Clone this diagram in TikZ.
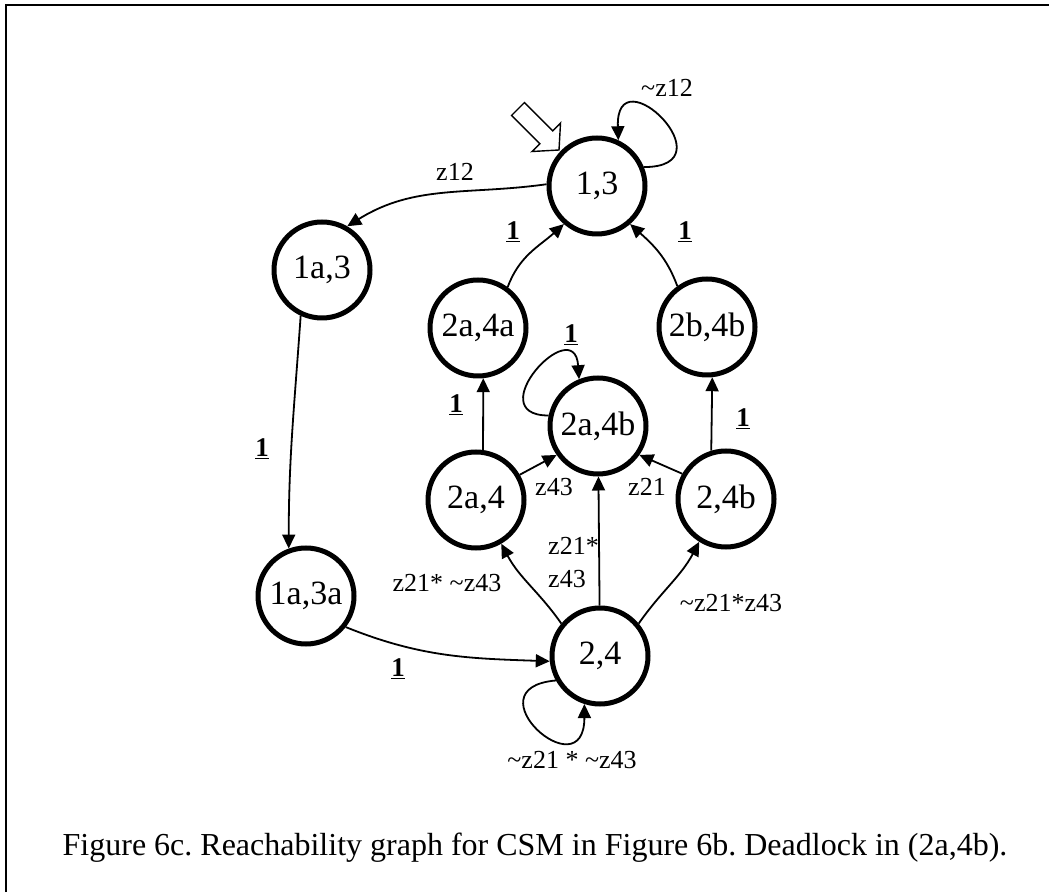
\documentclass[tikz,border=0pt]{standalone}
\usepackage{fontspec}
\setmainfont{Liberation Serif}
\usetikzlibrary{arrows.meta}
\newcommand{\uone}{\underline{\textbf{1}}}
\frenchspacing
\begin{document}
\begin{tikzpicture}
    [x=1pt,y=1pt,
     place/.style={circle,draw,line width=5pt,minimum size=96pt,inner sep=0pt,
                   font=\fontsize{34}{40}\selectfont},
     trans/.style={line width=1.8pt,-{Triangle[length=14pt,width=13pt]}},
     lbl/.style={inner sep=0pt,font=\fontsize{26}{33}\selectfont},
     one/.style={inner sep=0pt,font=\fontsize{27}{33}\selectfont\bfseries}]
    \useasboundingbox (0,0) rectangle (1049,892);
    \draw[line width=2pt] (6,0) -- (6,887) -- (1049,887);
    % states
    \node[place] (n13) at (597,706) {1,3};
    \node[place] (n1a3) at (322,622) {1a,3};
    \node[place] (n1a3a) at (306,296) {1a,3a};
    \node[place] (n2a4a) at (478,564) {2a,4a};
    \node[place] (n2b4b) at (707,565) {2b,4b};
    \node[place] (n2a4b) at (598,466) {2a,4b};
    \node[place] (n2a4) at (476,392) {2a,4};
    \node[place] (n24b) at (726,393) {2,4b};
    \node[place] (n24) at (600,236) {2,4};
    % initial state
    \draw[line width=1.4pt] (524.4,789.4) -- (552.7,761.1) -- (560.5,769) -- (559,742)
        -- (532,740.5) -- (539.9,748.3) -- (511.6,776.6) -- cycle;
    % transitions
    \draw[trans] (n13.178) to[out=188,in=32] (n1a3.60);
    \draw[trans] (n1a3.245) to[out=266,in=90] (n1a3a.110);
    \draw[trans] (n1a3a.-38) to[out=-22,in=178] (n24.186);
    \draw[trans] (n24.140) to[out=125,in=-62] (n2a4.-60);
    \draw[trans] (n24) -- (n2a4b);
    \draw[trans] (n24.40) to[out=55,in=242] (n24b.238);
    \draw[trans] (n2a4.30) -- (n2a4b.215);
    \draw[trans] (n24b.150) -- (n2a4b.-35);
    \draw[trans] (n2a4.82) -- (n2a4a.-84);
    \draw[trans] (n24b.107) -- (n2b4b.-84);
    \draw[trans] (n2a4a.54) to[out=70,in=222] (n13.229);
    \draw[trans] (n2b4b.126) to[out=110,in=-42] (n13.-49);
    \draw[trans] (n13.22) .. controls +(0:88) and +(92:88) .. (n13.65);
    \draw[trans] (n24.209) .. controls +(185:88) and +(270:88) .. (n24.252);
    \draw[trans] (n2a4b.168) .. controls +(180:70) and +(94:68) .. (n2a4b.112);
    % labels
    \node[lbl] (lz12) at (455,720) {z12};
    \node[lbl] (lnz12) at (667,804) {\textasciitilde z12};
    \node[one] (l1a) at (262,443) {\uone};
    \node[one] (l1b) at (398,223) {\uone};
    \node[lbl] (lloop) at (572,132) {\textasciitilde z21 * \textasciitilde z43};
    \node[lbl] (lleft) at (447,309) {z21* \textasciitilde z43};
    \node[lbl,align=left,anchor=west] (lmid) at (548,329) {z21*\\z43};
    \node[lbl] (lright) at (731,289) {\textasciitilde z21*z43};
    \node[lbl] (lz43) at (554,405) {z43};
    \node[lbl] (lz21) at (647,405) {z21};
    \node[one] (l1c) at (571,557) {\uone};
    \node[one] (l1d) at (456,487) {\uone};
    \node[one] (l1e) at (743,473) {\uone};
    \node[one] (l1f) at (513,660) {\uone};
    \node[one] (l1g) at (685,660) {\uone};
    \node[font=\fontsize{32}{36}\selectfont] (caption) at (535,44)
        {Figure 6c. Reachability graph for CSM in Figure 6b. Deadlock in (2a,4b).};
\end{tikzpicture}
\end{document}
